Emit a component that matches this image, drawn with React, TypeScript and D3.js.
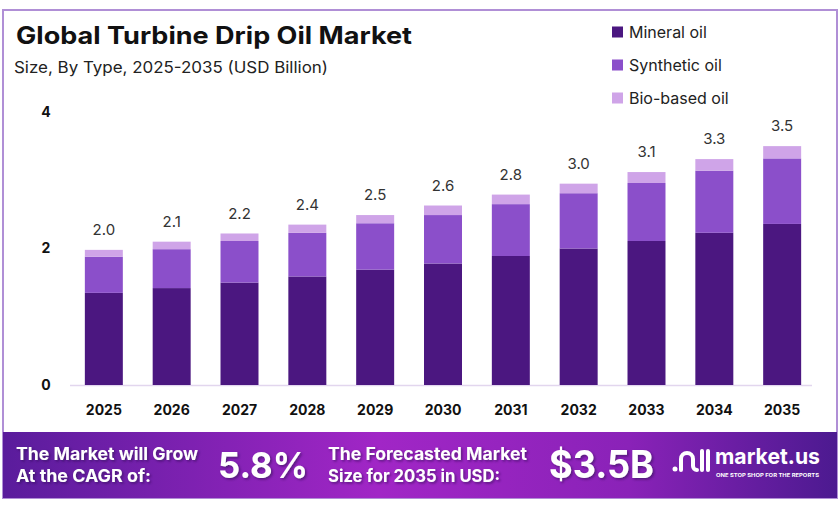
import * as d3 from "d3";

const years = ["2025", "2026", "2027", "2028", "2029", "2030", "2031", "2032", "2033", "2034", "2035"];
const mineral = [1.35, 1.42, 1.5, 1.59, 1.69, 1.78, 1.89, 2.0, 2.11, 2.23, 2.36];
const synthetic = [0.53, 0.57, 0.61, 0.64, 0.68, 0.71, 0.76, 0.81, 0.85, 0.91, 0.96];
const bioBased = [0.1, 0.11, 0.11, 0.12, 0.12, 0.14, 0.14, 0.14, 0.16, 0.17, 0.18];
const totalLabels = ["2.0", "2.1", "2.2", "2.4", "2.5", "2.6", "2.8", "3.0", "3.1", "3.3", "3.5"];
const yTicks = [0, 2, 4];

const seriesNames = ["Mineral oil", "Synthetic oil", "Bio-based oil"];
const seriesColors = ["#4b1780", "#8b4fca", "#cfa4e8"];

const W = 840;
const H = 509;

export default function App() {
  const rows = years.map((year, i) => ({
    year,
    "Mineral oil": mineral[i],
    "Synthetic oil": synthetic[i],
    "Bio-based oil": bioBased[i],
  }));

  const stack = d3.stack<any>().keys(seriesNames)(rows);

  const x = d3.scaleBand<string>().domain(years).range([55, 831]).padding(0.44);
  const y = d3.scaleLinear().domain([0, 4]).range([385, 112]);

  const font = "Inter, 'Open Sans', sans-serif";

  return (
    <div>
      <style>{`body{margin:0}`}</style>
      <svg width={W} height={H} viewBox={`0 0 ${W} ${H}`} style={{ display: "block", fontFamily: font }}>
        <defs>
          <linearGradient id="banner" x1="0" x2="1" y1="0" y2="0">
            <stop offset="0%" stopColor="#5a1c9c" />
            <stop offset="45%" stopColor="#a126c6" />
            <stop offset="75%" stopColor="#8a22b8" />
            <stop offset="100%" stopColor="#4c1a90" />
          </linearGradient>
          <filter id="shadow" x="-10%" y="-10%" width="130%" height="140%">
            <feDropShadow dx="1.5" dy="1.5" stdDeviation="1" floodColor="#2a0a50" floodOpacity="0.6" />
          </filter>
        </defs>

        <rect x={0} y={0} width={W} height={H} fill="#ffffff" />
        {/* frame */}
        <rect x={3} y={10} width={834} height={488} fill="none" stroke="#b08fd6" strokeWidth={2} />

        {/* title */}
        <text x={16} y={44} fontSize={24} fontWeight={700} fill="#111" textLength={396} lengthAdjust="spacingAndGlyphs">
          Global Turbine Drip Oil Market
        </text>
        <text x={14} y={73} fontSize={16} fill="#222" textLength={314} lengthAdjust="spacingAndGlyphs">
          Size, By Type, 2025-2035 (USD Billion)
        </text>

        {/* legend */}
        {seriesNames.map((name, i) => (
          <g key={name} transform={`translate(612, ${32 + i * 33})`}>
            <rect x={0} y={-5.5} width={11} height={11} fill={seriesColors[i]} />
            <text x={17} y={0} dy="0.35em" fontSize={16} fill="#222">
              {name}
            </text>
          </g>
        ))}

        {/* y ticks */}
        {yTicks.map((t) => (
          <text key={t} x={46} y={y(t)} dy="0.35em" textAnchor="middle" fontSize={14} fontWeight={700} fill="#111">
            {t}
          </text>
        ))}

        {/* baseline */}
        <line x1={70} x2={812} y1={y(0) + 0.5} y2={y(0) + 0.5} stroke="#e2d6ee" strokeWidth={1.5} />

        {/* bars */}
        {stack.map((layer, li) => (
          <g key={layer.key} fill={seriesColors[li]}>
            {layer.map((d, i) => (
              <rect
                key={years[i]}
                x={x(years[i])}
                y={y(d[1])}
                width={x.bandwidth()}
                height={y(d[0]) - y(d[1])}
              />
            ))}
          </g>
        ))}

        {/* totals */}
        {years.map((yr, i) => (
          <text
            key={yr}
            x={(x(yr) ?? 0) + x.bandwidth() / 2}
            y={y(mineral[i] + synthetic[i] + bioBased[i]) - 20}
            dy="0.35em"
            textAnchor="middle"
            fontSize={15}
            fill="#333"
          >
            {totalLabels[i]}
          </text>
        ))}

        {/* x labels */}
        {years.map((yr) => (
          <text
            key={yr}
            x={(x(yr) ?? 0) + x.bandwidth() / 2}
            y={410}
            dy="0.35em"
            textAnchor="middle"
            fontSize={14}
            fontWeight={700}
            fill="#111"
          >
            {yr}
          </text>
        ))}

        {/* banner */}
        <rect x={3} y={432} width={834} height={66} fill="url(#banner)" />
        <g fill="#ffffff" fontWeight={700} filter="url(#shadow)">
          <text x={16} y={454} dy="0.35em" fontSize={17} textLength={182} lengthAdjust="spacingAndGlyphs">
            The Market will Grow
          </text>
          <text x={16} y={476} dy="0.35em" fontSize={17} textLength={135} lengthAdjust="spacingAndGlyphs">
            At the CAGR of:
          </text>
          <text x={218} y={465} dy="0.35em" fontSize={36} textLength={90} lengthAdjust="spacingAndGlyphs">
            5.8%
          </text>
          <text x={328} y={454} dy="0.35em" fontSize={17} textLength={199} lengthAdjust="spacingAndGlyphs">
            The Forecasted Market
          </text>
          <text x={328} y={476} dy="0.35em" fontSize={17} textLength={172} lengthAdjust="spacingAndGlyphs">
            Size for 2035 in USD:
          </text>
          <text x={549} y={465} dy="0.35em" fontSize={38} textLength={105} lengthAdjust="spacingAndGlyphs">
            $3.5B
          </text>
        </g>

        {/* logo */}
        <g stroke="#ffffff" strokeWidth={4} strokeLinecap="round" fill="none">
          <path d="M681,470 V459 A6,6 0 0 1 693,459 V466 A4,4 0 0 0 697,470" />
          <line x1={702} x2={702} y1={451} y2={470} />
          <line x1={708} x2={708} y1={451} y2={470} />
        </g>
        <circle cx={675} cy={469} r={2.5} fill="#ffffff" />
        <text x={715} y={456} dy="0.35em" fontSize={22} fontWeight={700} fill="#ffffff" textLength={105} lengthAdjust="spacingAndGlyphs">
          market.us
        </text>
        <text x={716} y={475} dy="0.35em" fontSize={5} fontWeight={700} fill="#ffffff" textLength={103} lengthAdjust="spacingAndGlyphs">
          ONE STOP SHOP FOR THE REPORTS
        </text>
      </svg>
    </div>
  );
}
